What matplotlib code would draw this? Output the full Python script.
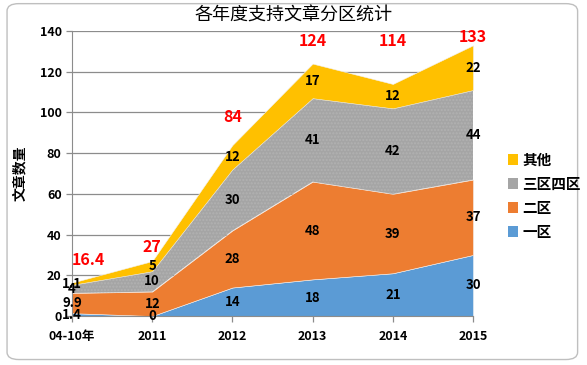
import numpy as np
import matplotlib
matplotlib.use('Agg')
import matplotlib.pyplot as plt
from matplotlib.patches import Patch, FancyBboxPatch

plt.rcParams['font.family'] = ['Noto Sans CJK SC', 'DejaVu Sans']

# --- data ---
categories = ['04-10年', '2011', '2012', '2013', '2014', '2015']
series_names = ['一区', '二区', '三区四区', '其他']
zone1 = [1.4, 0, 14, 18, 21, 30]
zone2 = [9.9, 12, 28, 48, 39, 37]
zone34 = [4, 10, 30, 41, 42, 44]
other = [1.1, 5, 12, 17, 12, 22]
totals = [16.4, 27, 84, 124, 114, 133]

colors = ['#5B9BD5', '#ED7D31', '#A5A5A5', '#FFC000']
total_dy = [16, 10, 20, 16, 31, 6]   # label offsets above the stack, in points

fig = plt.figure(figsize=(5.87, 3.65), dpi=100)
fig.patch.set_facecolor('white')

# chart frame
frame = FancyBboxPatch((0.012, 0.015), 0.972, 0.975, boxstyle='round,pad=0,rounding_size=0.02',
                       transform=fig.transFigure, facecolor='white', edgecolor='#BFBFBF',
                       linewidth=1.0, zorder=-1)
fig.patches.append(frame)

ax = fig.add_axes([0.1227, 0.1342, 0.6831, 0.7808])
x = np.arange(len(categories))
data = np.array([zone1, zone2, zone34, other])

polys = ax.stackplot(x, data, colors=colors, labels=series_names, zorder=2,
                     edgecolor='#F2F2F2', linewidth=0.4)
polys[2].set_hatch('.....')
polys[2].set_edgecolor('#B2B2B2')
polys[2].set_linewidth(0.0)

# band-centered data labels
cum = np.cumsum(data, axis=0)
for s in range(data.shape[0]):
    for i in range(len(x)):
        v = data[s, i]
        yc = cum[s, i] - v / 2
        ax.text(x[i], yc, f'{v:g}', ha='center', va='center', fontsize=9.5,
                fontweight='bold', color='black', zorder=5, clip_on=False)

# totals in red
for i, t in enumerate(totals):
    ax.annotate(f'{t:g}', (x[i], t), xytext=(0, total_dy[i]), textcoords='offset points',
                ha='left' if i == 0 else 'center', va='center', fontsize=11.5,
                fontweight='bold', color='#FF0000', zorder=6, annotation_clip=False)

ax.set_xlim(0, len(x) - 1)
ax.set_ylim(0, 140)
ax.set_yticks(np.arange(0, 141, 20))
ax.set_xticks(x)
ax.set_xticklabels(categories)
ax.grid(axis='y', color='#8C8C8C', linewidth=0.9, zorder=0)
ax.set_axisbelow(True)

for sp in ['top', 'right']:
    ax.spines[sp].set_visible(False)
ax.spines['left'].set_color('#8C8C8C')
ax.spines['bottom'].set_color('#8C8C8C')
ax.tick_params(axis='both', colors='#8C8C8C', length=4, width=0.9, labelcolor='black',
               labelsize=9)
ax.tick_params(axis='x', pad=6)
for lab in ax.get_xticklabels() + ax.get_yticklabels():
    lab.set_fontweight('bold')

ax.set_ylabel('文章数量', fontsize=10, fontweight='bold', labelpad=9)
fig.text(0.5, 0.957, '各年度支持文章分区统计', ha='center', va='center', fontsize=13)

handles = [Patch(facecolor=colors[i], edgecolor='none') for i in range(3, -1, -1)]
labels = [series_names[i] for i in range(3, -1, -1)]
fig.legend(handles, labels, loc='center left', bbox_to_anchor=(0.843, 0.464), frameon=False,
           handlelength=0.7, handleheight=0.7, handletextpad=0.3, labelspacing=0.55,
           prop={'size': 10.5, 'weight': 'bold'})

fig.savefig('out.png', dpi=100)
